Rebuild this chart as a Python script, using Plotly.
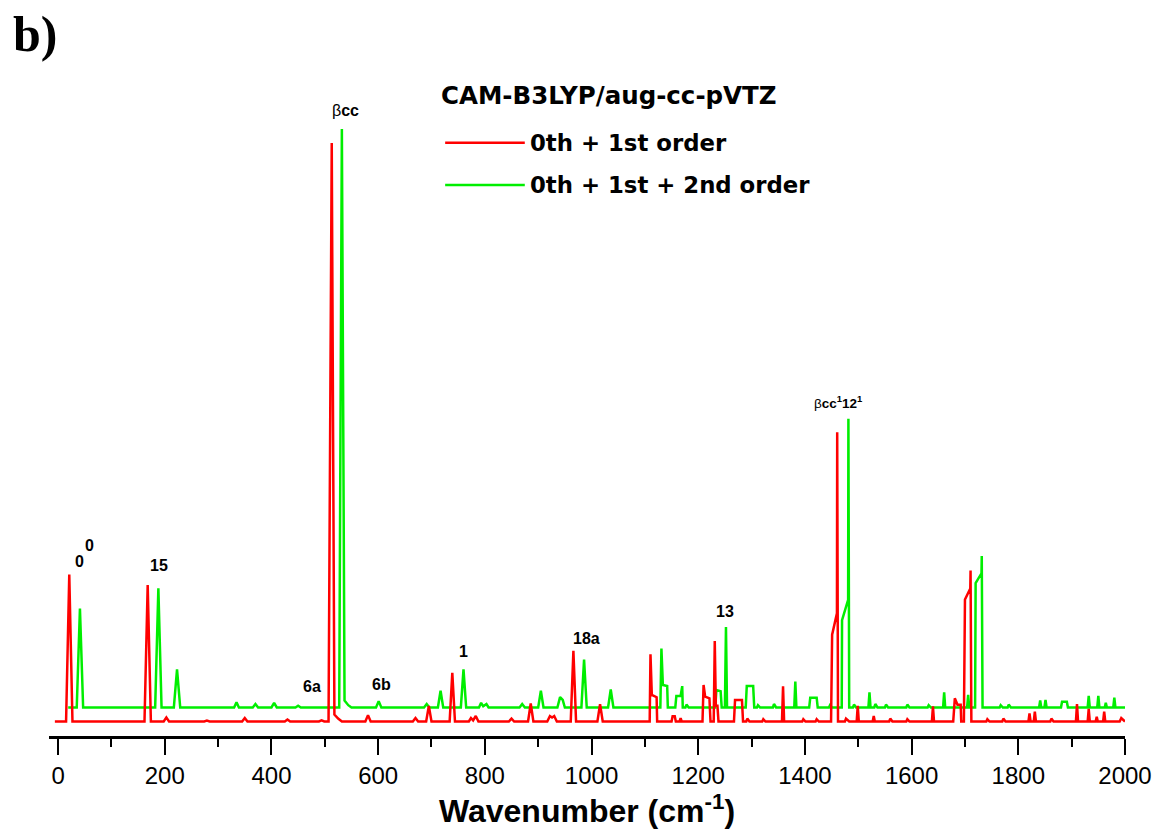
import plotly.graph_objects as go

# ---- spectrum vertices (wavenumber in cm^-1, intensity in arb. units) ----
# 0th + 1st order
red_wn = [
    -6,
    15, 21, 27,
    162, 168, 174,
    198, 203, 208,
    274, 279, 284,
    345, 350, 355,
    425, 430, 435,
    489, 494, 499,
    507, 513, 518, 525, 532,
    576, 581, 586,
    665, 670, 675,
    690, 695, 700,
    734, 739, 744,
    770, 774, 778, 783, 788,
    845, 850, 855,
    881, 886, 891,
    917, 922, 926, 930, 935,
    961, 966, 971,
    1011, 1016, 1021,
    1109, 1110.5, 1113, 1122, 1123,
    1150, 1152, 1156, 1158,
    1165, 1167, 1169,
    1208, 1210, 1213, 1221, 1223,
    1229, 1231, 1233, 1236, 1238,
    1267, 1269, 1282, 1284,
    1290, 1292, 1296,
    1320, 1322, 1326,
    1357, 1359, 1361,
    1395, 1397, 1401,
    1420, 1422, 1426,
    1449, 1451, 1460, 1460.5, 1462,
    1475, 1477, 1483,
    1497, 1499, 1501,
    1527, 1529, 1531,
    1558, 1560, 1564,
    1590, 1592, 1596,
    1638, 1640, 1642,
    1678, 1681, 1686, 1692, 1693,
    1698, 1700, 1710, 1710.5, 1712,
    1740, 1742, 1746,
    1770, 1772, 1776,
    1819, 1821, 1823,
    1829, 1831, 1833,
    1860, 1862, 1866,
    1908, 1910, 1912,
    1930, 1932, 1934,
    1945, 1947, 1949,
    1959, 1961, 1963,
    1990, 1993, 2000,
]
red_int = [
    0,
    0, 25.4, 0,
    0, 23.6, 0,
    0, 0.7, 0,
    0, 0.15, 0,
    0, 0.6, 0,
    0, 0.35, 0,
    0, 0.2, 0,
    0, 100.0, 1.2, 0.5, 0,
    0, 1.1, 0,
    0, 0.6, 0,
    0, 2.7, 0,
    0, 8.4, 0,
    0, 0.6, 0.2, 0.95, 0,
    0, 0.5, 0,
    0, 3.1, 0,
    0, 0.95, 0.7, 0.95, 0,
    0, 12.2, 0,
    0, 3.0, 0,
    0, 11.6, 4.6, 4.2, 0,
    0, 0.9, 0.9, 0,
    0, 0.6, 0,
    0, 6.3, 4.3, 4.0, 0,
    0, 13.9, 2.7, 2.7, 0,
    0, 3.7, 3.7, 0,
    0, 0.5, 0,
    0, 0.4, 0,
    0, 6.1, 0,
    0, 0.4, 0,
    0, 0.4, 0,
    0, 15.0, 18.7, 50.0, 0,
    0, 0.5, 0,
    0, 2.7, 0,
    0, 0.95, 0,
    0, 0.5, 0,
    0, 0.4, 0,
    0, 2.6, 0,
    0, 4.0, 2.9, 2.9, 0,
    0, 21.1, 23.0, 26.1, 0,
    0, 0.4, 0,
    0, 0.5, 0,
    0, 1.4, 0,
    0, 1.7, 0,
    0, 0.5, 0,
    0, 3.0, 0,
    0, 2.2, 0,
    0, 0.8, 0,
    0, 1.7, 0,
    0, 0.6, 0,
]

# 0th + 1st + 2nd order
green_wn = [
    19,
    35, 41, 47,
    182, 188, 194,
    217, 223, 229,
    330, 334.5, 339,
    365, 370, 375,
    400, 405, 410,
    445, 450, 455,
    527, 532, 537, 544, 550,
    596, 601, 606,
    686, 691, 696,
    712, 717, 722,
    755, 760, 765,
    789, 793, 797, 803, 807,
    865, 870, 875,
    900, 905, 910,
    936, 941, 946, 950,
    981, 986, 991,
    1031, 1036, 1041,
    1129, 1131, 1133.7, 1141.8, 1143,
    1157, 1159, 1167, 1170, 1171,
    1176, 1178, 1182,
    1232, 1234, 1242, 1244,
    1250, 1252, 1254,
    1289, 1291, 1303, 1305,
    1310, 1312, 1316,
    1340, 1342, 1346,
    1380, 1382, 1384,
    1408, 1410, 1422, 1424,
    1445, 1447, 1451,
    1469, 1469.6, 1481, 1481.5, 1483,
    1490, 1492, 1496,
    1519, 1521, 1523,
    1530, 1532, 1536,
    1550, 1552, 1556,
    1590, 1592, 1596,
    1630, 1632, 1636,
    1659, 1661, 1663,
    1704, 1706, 1708,
    1719, 1720, 1731, 1731.5, 1733,
    1765, 1767, 1771,
    1780, 1782, 1786,
    1839, 1841, 1843,
    1849, 1851, 1853,
    1880, 1882, 1891, 1893,
    1930, 1932, 1934,
    1948, 1950, 1952,
    1962, 1964, 1966,
    1978, 1980, 1982,
    2000,
]
green_int = [
    0,
    0, 17.1, 0,
    0, 20.6, 0,
    0, 6.6, 0,
    0, 0.9, 0,
    0, 0.6, 0,
    0, 0.8, 0,
    0, 0.3, 0,
    0, 100.0, 1.2, 0.4, 0,
    0, 1.1, 0,
    0, 0.6, 0,
    0, 2.9, 0,
    0, 6.6, 0,
    0, 0.8, 0.2, 0.6, 0,
    0, 0.6, 0,
    0, 2.9, 0,
    0, 1.8, 1.3, 0,
    0, 8.3, 0,
    0, 3.1, 0,
    0, 10.2, 3.9, 3.7, 0,
    0, 2.0, 2.0, 3.7, 0,
    0, 0.5, 0,
    0, 3.0, 2.8, 0,
    0, 13.9, 0,
    0, 3.7, 3.7, 0,
    0, 0.4, 0,
    0, 0.6, 0,
    0, 4.5, 0,
    0, 1.7, 1.7, 0,
    0, 0.4, 0,
    0, 15.1, 18.6, 49.9, 0,
    0, 0.5, 0,
    0, 2.6, 0,
    0, 0.6, 0,
    0, 0.5, 0,
    0, 0.5, 0,
    0, 0.4, 0,
    0, 2.6, 0,
    0, 2.2, 0,
    0, 21.5, 23.2, 26.2, 0,
    0, 0.4, 0,
    0, 0.5, 0,
    0, 1.2, 0,
    0, 1.3, 0,
    0, 1.0, 1.0, 0,
    0, 2.0, 0,
    0, 2.0, 0,
    0, 0.8, 0,
    0, 1.7, 0,
    0,
]

# vertical stacking of the second spectrum
GREEN_OFFSET = 2.42

# band assignments: (text, wavenumber, height, font size)
band_labels = [
    ("<b>0</b>", 39.6, 27.6, 16),
    ("<b>0</b>", 58.2, 30.4, 16),
    ("<b>15</b>", 190, 26.9, 16),
    ("<b>6a</b>", 475.6, 6.0, 16),
    ("<b>6b</b>", 605.7, 6.4, 16),
    ("β<b>cc</b>", 539, 105.7, 16),
    ("<b>1</b>", 759.3, 12.1, 16),
    ("<b>18a</b>", 991.2, 14.4, 16),
    ("<b>13</b>", 1249.5, 19.0, 16),
    ("β<b>cc<sup>1</sup>12<sup>1</sup></b>", 1462, 55.2, 13.5),
]

series_names = ["0th + 1st order", "0th + 1st + 2nd order"]
method_title = "CAM-B3LYP/aug-cc-pVTZ"

RED = "#ff0000"
GREEN = "#00ee00"
SANS = "Liberation Sans, Arial, sans-serif"
WIDE = "DejaVu Sans, Verdana, sans-serif"

W, H = 1164, 834
ML, MR, MT, MB = 49, 34, 100, 98
PW, PH = W - ML - MR, H - MT - MB


def px_to_paper(x, y):
    return (x - ML) / PW, (H - MB - y) / PH


fig = go.Figure()
fig.add_trace(go.Scatter(
    x=green_wn, y=[v + GREEN_OFFSET for v in green_int],
    mode="lines", line=dict(color=GREEN, width=2.5),
    name=series_names[1], showlegend=False,
))
fig.add_trace(go.Scatter(
    x=red_wn, y=red_int,
    mode="lines", line=dict(color=RED, width=2.5),
    name=series_names[0], showlegend=False,
))

annotations = []
for text, xv, yv, fs in band_labels:
    annotations.append(dict(
        x=xv, y=yv, xref="x", yref="y", text=text, showarrow=False,
        font=dict(family=SANS, size=fs, color="black"),
        xanchor="center", yanchor="middle",
    ))

# panel tag
px, py = px_to_paper(11, 34)
annotations.append(dict(
    x=px, y=py, xref="paper", yref="paper", text="<b>b)</b>", showarrow=False,
    font=dict(family="Liberation Serif, Times New Roman, serif", size=50, color="black"),
    xanchor="left", yanchor="middle",
))

# legend block
px, py = px_to_paper(441, 95)
annotations.append(dict(
    x=px, y=py, xref="paper", yref="paper", text="<b>" + method_title + "</b>",
    showarrow=False, font=dict(family=WIDE, size=24.5, color="black"),
    xanchor="left", yanchor="middle",
))
shapes = []
for i, (name, col) in enumerate(zip(series_names, [RED, GREEN])):
    ly = 142.7 + i * 42.3
    x0, y0 = px_to_paper(447, ly)
    x1, _ = px_to_paper(527, ly)
    shapes.append(dict(type="line", xref="paper", yref="paper",
                       x0=x0, x1=x1, y0=y0, y1=y0,
                       line=dict(color=col, width=2.5)))
    tx, ty = px_to_paper(530, ly)
    annotations.append(dict(
        x=tx, y=ty, xref="paper", yref="paper", text="<b>" + name + "</b>",
        showarrow=False, font=dict(family=WIDE, size=22.8, color="black"),
        xanchor="left", yanchor="middle",
    ))

fig.update_layout(
    width=W, height=H,
    margin=dict(l=ML, r=MR, t=MT, b=MB),
    paper_bgcolor="white", plot_bgcolor="white",
    annotations=annotations, shapes=shapes,
    showlegend=False,
)
fig.update_xaxes(
    range=[-17, 2000],
    showline=True, linewidth=3, linecolor="black",
    ticks="outside", ticklen=16, tickwidth=2, tickcolor="black",
    tick0=0, dtick=200,
    minor=dict(dtick=100, ticks="outside", ticklen=8, tickwidth=2, tickcolor="black"),
    tickfont=dict(family=SANS, size=24, color="black"),
    showgrid=False, zeroline=False,
    title=dict(text="<b>Wavenumber (cm<sup>-1</sup>)</b>",
               font=dict(family=SANS, size=32, color="black"), standoff=5),
)
fig.update_yaxes(range=[-2.51, 107.43], visible=False, showgrid=False, zeroline=False)

fig.write_html("out.html")
